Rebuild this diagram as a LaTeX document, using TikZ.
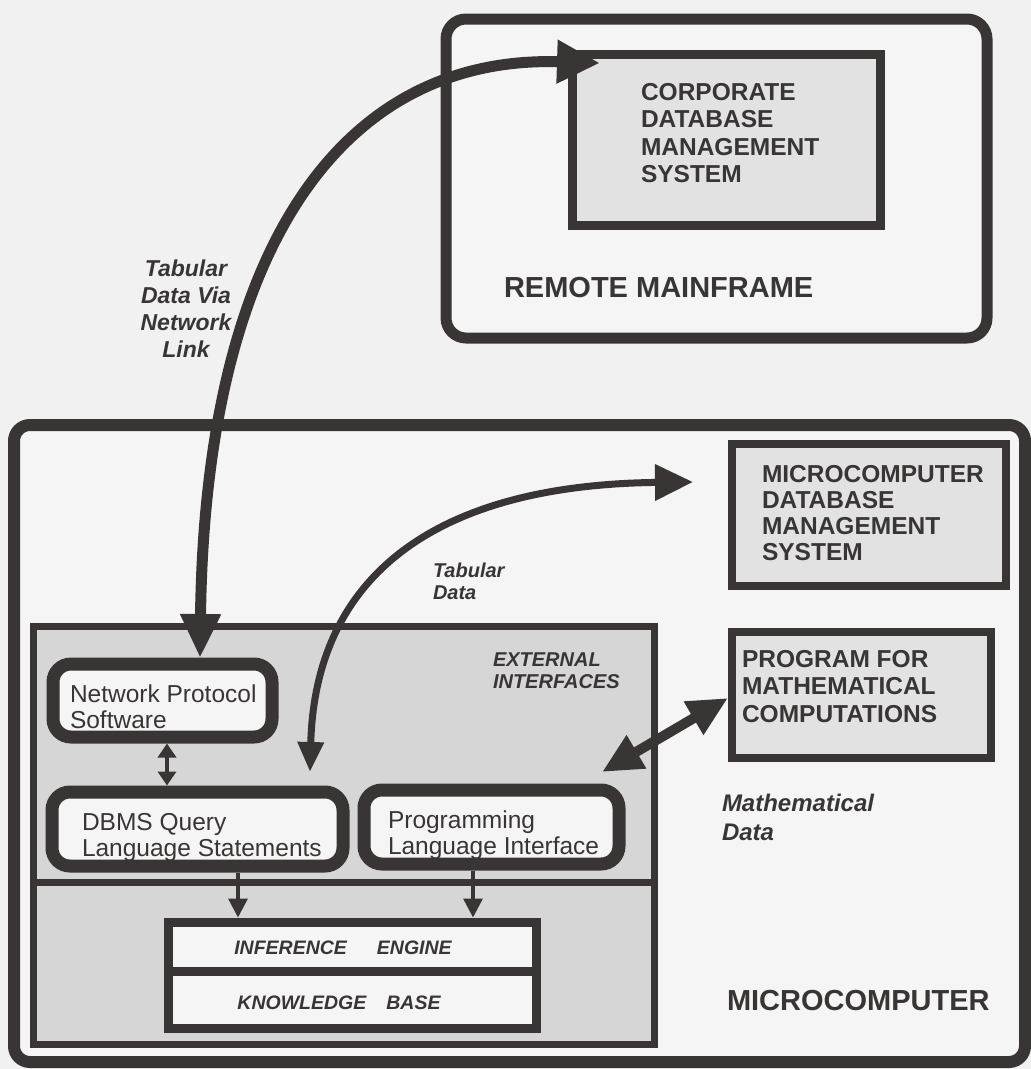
\documentclass[tikz,border=0pt]{standalone}
\usepackage{fontspec}
\setmainfont{Liberation Sans}
\usetikzlibrary{arrows.meta,calc}
\definecolor{ink}{HTML}{3A3535}
\definecolor{bgc}{HTML}{F1F1F1}
\definecolor{shade}{HTML}{D6D6D6}
\definecolor{lightshade}{HTML}{E2E2E2}
\definecolor{paper}{HTML}{F5F5F5}
\begin{document}
\begin{tikzpicture}[x=1pt,y=-1pt,
  box/.style={draw=ink, inner sep=0pt, outer sep=0pt, anchor=center},
  rbox/.style={box, line width=13pt, rounded corners=18pt, fill=paper},
  lab/.style={inner sep=0pt, outer sep=0pt, text=ink, align=left},
  bigB/.style={font=\fontsize{24.5}{27.5}\selectfont\bfseries},
  regT/.style={font=\fontsize{24.5}{26}\selectfont},
  thinarrow/.style={draw=ink, line width=3.5pt}
]
\fill[bgc] (0,0) rectangle (1031,1069);
\useasboundingbox (0,0) rectangle (1031,1069);

% Remote mainframe
\node[box, line width=11pt, rounded corners=20pt, fill=paper, minimum width=541pt, minimum height=319pt] (rm) at (716.5,178.5) {};
\node[box, line width=9pt, fill=lightshade, minimum width=308pt, minimum height=171pt] (corp) at (726,139.5) {};
\node[lab, bigB, anchor=north west] (corptxt) at (641,83) {CORPORATE\\DATABASE\\MANAGEMENT\\SYSTEM};
\node[lab, font=\fontsize{29}{32}\selectfont\bfseries, anchor=base west] (rmtxt) at (504,297) {REMOTE MAINFRAME};

% Microcomputer
\node[box, line width=12pt, rounded corners=16pt, fill=paper, minimum width=1011pt, minimum height=637pt] (mc) at (519.5,743.5) {};
\node[box, line width=8pt, fill=lightshade, minimum width=274pt, minimum height=142pt] (mdb) at (869,515) {};
\node[lab, font=\fontsize{24.5}{26}\selectfont\bfseries, anchor=north west] (mdbtxt) at (762,465) {MICROCOMPUTER\\DATABASE\\MANAGEMENT\\SYSTEM};
\node[box, line width=8pt, fill=lightshade, minimum width=259pt, minimum height=126pt] (prog) at (861.5,695) {};
\node[lab, bigB, anchor=north west] (progtxt) at (742,650) {PROGRAM FOR\\MATHEMATICAL\\COMPUTATIONS};
\node[lab, font=\fontsize{24}{29}\selectfont\bfseries\itshape, anchor=north west] (mathtxt) at (722,794) {Mathematical\\Data};
\node[lab, font=\fontsize{29}{32}\selectfont\bfseries, anchor=base west] (mctxt) at (727,1010) {MICROCOMPUTER};

% shaded sections
\node[box, line width=7pt, fill=shade, minimum width=621pt, minimum height=256pt] (ext) at (343.5,754) {};
\node[box, line width=7pt, fill=shade, minimum width=621pt, minimum height=162pt] (low) at (343.5,963) {};
\node[lab, font=\fontsize{20}{22}\selectfont\bfseries\itshape, anchor=north west] (exttxt) at (493,653) {EXTERNAL\\INTERFACES};

% interface boxes
\node[rbox, minimum width=219pt, minimum height=73pt] (net) at (162.5,700.5) {};
\node[lab, regT, anchor=north west] (nettxt) at (70,685) {Network Protocol\\Software};
\node[rbox, draw=none, minimum width=291pt, minimum height=74pt] (dbms) at (197.5,829) {};
\node[lab, regT, anchor=north west] (dbmstxt) at (82,813) {DBMS Query\\Language Statements};
\draw[ink, line width=13pt, rounded corners=18pt] (dbms.south west) rectangle (dbms.north east);
\node[rbox, draw=none, minimum width=255pt, minimum height=74pt] (pli) at (491.5,827) {};
\node[lab, regT, anchor=north west] (plitxt) at (388,811) {Programming\\Language Interface};
\draw[ink, line width=13pt, rounded corners=18pt] (pli.south west) rectangle (pli.north east);

% inference engine / knowledge base
\node[box, line width=9pt, fill=paper, minimum width=368pt, minimum height=49pt] (ie) at (352,946.5) {};
\node[box, line width=9pt, fill=paper, minimum width=368pt, minimum height=57pt] (kb) at (352,999.5) {};
\node[lab, font=\fontsize{19.5}{22}\selectfont\bfseries\itshape] (ietxt) at (343,948) {INFERENCE\hspace{30pt}ENGINE};
\node[lab, font=\fontsize{19.5}{22}\selectfont\bfseries\itshape] (kbtxt) at (339,1003) {KNOWLEDGE\hspace{20pt}BASE};

% labels on links
\node[lab, align=center, font=\fontsize{23}{27}\selectfont\bfseries\itshape, anchor=north] (nltxt) at (186,260) {Tabular\\Data Via\\Network\\Link};
\node[lab, font=\fontsize{20}{21.5}\selectfont\bfseries\itshape, anchor=north west] (tdtxt) at (433,563) {Tabular\\Data};

% big curved arrows
\coordinate (nettip) at (200,658);
\coordinate (corptip) at (600,63);
\draw[ink, line width=11pt, {Triangle[length=44pt,width=38pt]}-{Triangle[length=43pt,width=41pt]}]
  (nettip) .. controls (205,250) and (340,55) .. (corptip);
\coordinate (tabtip) at (310,772);
\coordinate (mdbtip) at (693,482);
\draw[ink, line width=7pt, {Triangle[length=30pt,width=25pt]}-{Triangle[length=38pt,width=35pt]}]
  (tabtip) .. controls (315,580) and (430,485) .. (mdbtip);
\coordinate (mathtip) at (602,772);
\draw[ink, line width=10pt, {Triangle[length=40pt,width=36pt]}-{Triangle[length=40pt,width=36pt]}]
  (mathtip) -- ([xshift=-4pt,yshift=-3pt]prog.west);

% small arrows
\coordinate (a1) at ([xshift=4.5pt,yshift=-6.5pt]net.south);
\draw[thinarrow, {Triangle[length=14pt,width=18pt]}-{Triangle[length=14pt,width=18pt]}]
  (a1) -- ($(a1 |- dbms.north)+(0,-6.5)$);
\coordinate (b1) at ([xshift=40.5pt,yshift=-6.5pt]dbms.south);
\draw[thinarrow, -{Triangle[length=19pt,width=19pt]}] (b1) -- ($(b1 |- ie.north)+(0,-4.5)$);
\coordinate (c1) at ([xshift=-18.5pt,yshift=-6.5pt]pli.south);
\draw[thinarrow, -{Triangle[length=19pt,width=19pt]}] (c1) -- ($(c1 |- ie.north)+(0,-4.5)$);
\end{tikzpicture}
\end{document}
